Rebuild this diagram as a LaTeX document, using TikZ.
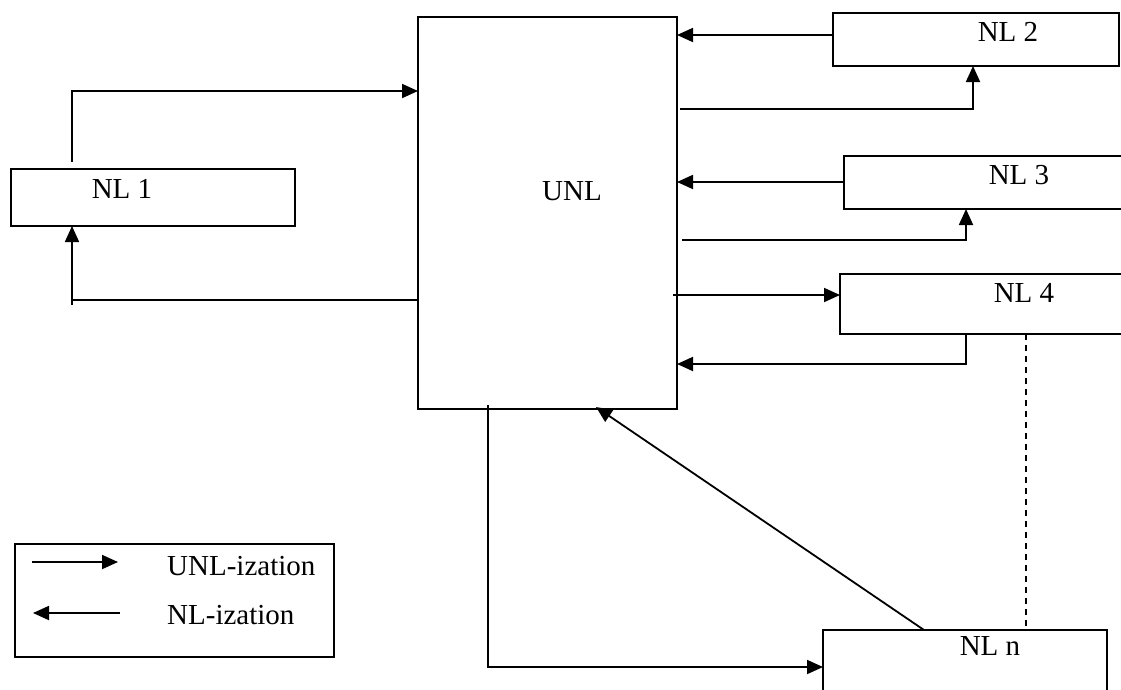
\documentclass[tikz,border=0pt]{standalone}
\usepackage{fontspec}
\setmainfont{Liberation Serif}
\usetikzlibrary{arrows.meta}
\begin{document}
\begin{tikzpicture}[x=1pt,y=-1pt,
  box/.style={draw, line width=2.3pt, outer sep=0pt, inner sep=0pt, anchor=north west},
  lbl/.style={inner sep=0pt, font=\fontsize{29}{34}\selectfont},
  arr/.style={line width=1.8pt, -{Triangle[length=16pt,width=14pt]}},
  ln/.style={line width=1.8pt},
  dsh/.style={line width=1.8pt, dash pattern=on 6pt off 5pt}]
\useasboundingbox (0,0) rectangle (1121,689);
% boxes
\node[box, minimum width=259pt, minimum height=392pt] (UNL) at (418,17) {};
\node[box, minimum width=284pt, minimum height=57pt] (NL1) at (11,169) {};
\node[box, minimum width=286pt, minimum height=53pt] (NL2) at (833,13) {};
\node[box, minimum width=300pt, minimum height=53pt] (NL3) at (844,156) {};
\node[box, minimum width=300pt, minimum height=60pt] (NL4) at (840,274) {};
\node[box, minimum width=284pt, minimum height=80pt] (NLn) at (823,630) {};
\node[box, minimum width=319pt, minimum height=113pt] (LEG) at (15,544) {};
% labels
\node[lbl] (tUNL) at (572,191) {UNL};
\node[lbl] (t1) at (122,189) {NL 1};
\node[lbl] (t2) at (1008,32) {NL 2};
\node[lbl] (t3) at (1019,175) {NL 3};
\node[lbl] (t4) at (1024,293) {NL 4};
\node[lbl] (tn) at (990,646) {NL n};
\node[lbl, anchor=west] (tu) at (167,566) {UNL-ization};
\node[lbl, anchor=west] (tnl) at (167,615) {NL-ization};
% free ends
\coordinate (a1) at (72,162);
\coordinate (b1) at (417,300);
\coordinate (b1e) at (72,305);
\coordinate (c2) at (680,109);
\coordinate (c3) at (682,240);
\coordinate (c4) at (673,295);
\coordinate (d4) at (966,334);
\coordinate (en) at (924,630);
\coordinate (fn) at (488,405);
\coordinate (gn) at (1026,334);
\coordinate (l1a) at (32,562);
\coordinate (l1b) at (118,562);
\coordinate (l2a) at (120,613);
\coordinate (l2b) at (33,613);
% NL1
\draw[arr] (a1) |- (UNL.west |- 0,91);
\draw[ln] (b1) -- (b1 -| b1e);
\draw[arr] (b1e) -- (b1e |- NL1.south);
% NL2
\draw[arr] (NL2.west |- 0,35) -- (UNL.east |- 0,35);
\draw[arr] (c2) -| (NL2.south -| 973,0);
% NL3
\draw[arr] (NL3.west |- 0,182) -- (UNL.east |- 0,182);
\draw[arr] (c3) -| (NL3.south -| 966,0);
% NL4
\draw[arr] (c4) -- (NL4.west |- c4);
\draw[arr] (d4) |- (UNL.east |- 0,364);
% NLn
\draw[arr] (en) -- (596,407);
\draw[arr] (fn) |- (NLn.west |- 0,667);
\draw[dsh] (gn) -- (gn |- NLn.north);
% legend
\draw[arr] (l1a) -- (l1b);
\draw[arr] (l2a) -- (l2b);
\end{tikzpicture}
\end{document}
